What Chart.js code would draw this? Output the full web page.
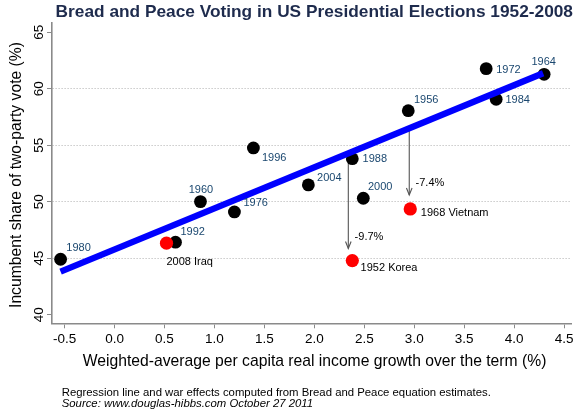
<!DOCTYPE html>
<html>
<head>
<meta charset="utf-8">
<title>Bread and Peace Voting</title>
<script src="https://cdn.jsdelivr.net/npm/chart.js@4.4.1/dist/chart.umd.min.js"></script>
<style>
  html, body { margin: 0; padding: 0; background: #fff; }
  #wrap { width: 578px; height: 420px; position: relative; }
</style>
</head>
<body>
<div id="wrap"><canvas id="chart"></canvas></div>
<script>
'use strict';

/* ----------------------------------------------------------
   DATA — values
---------------------------------------------------------- */
const years  = ['1956', '1960', '1964', '1972', '1976', '1980', '1984', '1988', '1992', '1996', '2000', '2004'];
const growth = [2.94, 0.86, 4.30, 3.72, 1.20, -0.54, 3.82, 2.38, 0.61, 1.39, 2.49, 1.94];
const vote   = [58.06, 50.01, 61.28, 61.78, 49.10, 44.91, 59.07, 53.81, 46.42, 54.76, 50.31, 51.49];

/* war years */
const warLabels = ['1952 Korea', '1968 Vietnam', '2008 Iraq'];
const warGrowth = [2.38, 2.96, 0.52];
const warVote   = [44.79, 49.36, 46.33];

/* regression line end points */
const fitGrowth = [-0.54, 4.29];
const fitVote   = [43.81, 61.37];

/* war effect arrows */
const effectLabels = ['-9.7%', '-7.4%'];
const effectGrowth = [2.34, 2.95];
const effectFrom   = [54.3, 56.3];
const effectTo     = [45.86, 50.6];

/* axis ticks */
const xTicks = [-0.5, 0, 0.5, 1, 1.5, 2, 2.5, 3, 3.5, 4, 4.5];
const xTickLabels = ['-0.5', '0.0', '0.5', '1.0', '1.5', '2.0', '2.5', '3.0', '3.5', '4.0', '4.5'];
const yTicks = [40, 45, 50, 55, 60, 65];
const yTickLabels = ['40', '45', '50', '55', '60', '65'];

/* ----------------------------------------------------------
   STYLE
---------------------------------------------------------- */
const FONT = "'Liberation Sans', Arial, Helvetica, sans-serif";
const NAVY = '#1a476f';
const AXIS_GRAY = '#8a8a8a';

/* label offsets (px) from point centre: [dx to text left, dy to text middle] */
const YEAR_OFFSETS = {
  '1956': [5.7, -10.7], '1960': [-11.7, -11.7], '1964': [-12.7, -12],
  '1972': [10, 1.3],    '1976': [9, -8.7],      '1980': [5.7, -11],
  '1984': [9.3, 0.7],   '1988': [10.3, 0.6],    '1992': [5, -10.6],
  '1996': [8.6, 10.3],  '2000': [4.7, -11.6],   '2004': [8.7, -6.7],
};
const WAR_OFFSETS = [[8.3, 7.6], [10.6, 3.7], [0, 19]];

const toXY = (xs, ys) => xs.map((x, i) => ({ x, y: ys[i] }));

/* ----------------------------------------------------------
   PLUGIN: arrows (drawn under the markers)
---------------------------------------------------------- */
const arrowPlugin = {
  id: 'effectArrows',
  beforeDatasetsDraw(chart) {
    const { ctx, scales: { x, y } } = chart;
    ctx.save();
    ctx.strokeStyle = '#555';
    ctx.lineWidth = 1.1;
    effectGrowth.forEach((g, i) => {
      const px = x.getPixelForValue(g);
      const y1 = y.getPixelForValue(effectFrom[i]);
      const y2 = y.getPixelForValue(effectTo[i]);
      ctx.beginPath();
      ctx.moveTo(px, y1);
      ctx.lineTo(px, y2);
      ctx.stroke();
      /* open arrow head */
      ctx.beginPath();
      ctx.moveTo(px - 2.8, y2 - 7);
      ctx.lineTo(px, y2);
      ctx.lineTo(px + 2.8, y2 - 7);
      ctx.stroke();
    });
    ctx.restore();
  },
};

/* ----------------------------------------------------------
   PLUGIN: texts (marker labels, y tick labels, titles, notes)
---------------------------------------------------------- */
const textPlugin = {
  id: 'texts',
  afterDraw(chart) {
    const { ctx, scales: { x, y } } = chart;
    ctx.save();

    /* year labels next to the black markers */
    ctx.font = `11px ${FONT}`;
    ctx.textAlign = 'left';
    ctx.textBaseline = 'middle';
    ctx.fillStyle = NAVY;
    chart.getDatasetMeta(2).data.forEach((pt, i) => {
      const [dx, dy] = YEAR_OFFSETS[years[i]];
      ctx.fillText(years[i], pt.x + dx, pt.y + dy);
    });

    /* war labels */
    ctx.fillStyle = '#000';
    chart.getDatasetMeta(1).data.forEach((pt, i) => {
      const [dx, dy] = WAR_OFFSETS[i];
      ctx.fillText(warLabels[i], pt.x + dx, pt.y + dy);
    });

    /* war effect labels beside the arrows */
    effectLabels.forEach((lab, i) => {
      const px = x.getPixelForValue(effectGrowth[i]);
      const py = y.getPixelForValue(effectTo[i]);
      ctx.fillText(lab, px + 6.3, py - 12);
    });

    /* y tick labels, rotated like the original */
    ctx.font = `13.5px ${FONT}`;
    ctx.textAlign = 'center';
    yTicks.forEach((v, i) => {
      ctx.save();
      ctx.translate(39.5, y.getPixelForValue(v));
      ctx.rotate(-Math.PI / 2);
      ctx.fillText(yTickLabels[i], 0, 0);
      ctx.restore();
    });

    /* y axis title */
    ctx.font = `15.7px ${FONT}`;
    ctx.save();
    ctx.translate(17, 175);
    ctx.rotate(-Math.PI / 2);
    ctx.fillText('Incumbent share of two-party vote (%)', 0, 0);
    ctx.restore();

    /* x axis title */
    ctx.fillText('Weighted-average per capita real income growth over the term (%)', 314.6, 362);

    /* main title */
    ctx.font = `bold 17.3px ${FONT}`;
    ctx.fillStyle = '#1e2b4d';
    ctx.fillText('Bread and Peace Voting in US Presidential Elections 1952-2008', 314.3, 12);

    /* notes */
    ctx.textAlign = 'left';
    ctx.fillStyle = '#000';
    ctx.font = `11.35px ${FONT}`;
    ctx.fillText('Regression line and war effects computed from Bread and Peace equation estimates.', 61.7, 393.3);
    ctx.font = `italic 11.35px ${FONT}`;
    ctx.fillText('Source: www.douglas-hibbs.com October 27 2011', 61.7, 403.6);

    ctx.restore();
  },
};

/* ----------------------------------------------------------
   CHART
---------------------------------------------------------- */
new Chart(document.getElementById('chart'), {
  type: 'scatter',
  data: {
    datasets: [
      {
        label: 'Regression line',
        data: toXY(fitGrowth, fitVote),
        showLine: true,
        borderColor: '#0000ff',
        borderWidth: 6.3,
        borderCapStyle: 'butt',
        pointRadius: 0,
        order: 0,
      },
      {
        label: 'War years',
        data: toXY(warGrowth, warVote),
        backgroundColor: '#ff0000',
        borderWidth: 0,
        pointRadius: 6.6,
        order: 1,
      },
      {
        label: 'Elections',
        data: toXY(growth, vote),
        backgroundColor: '#000',
        borderWidth: 0,
        pointRadius: 6.4,
        order: 2,
      },
    ],
  },
  options: {
    responsive: true,
    maintainAspectRatio: false,
    animation: false,
    layout: { padding: { top: 23, right: 3, left: 0, bottom: 0 } },
    plugins: {
      legend: { display: false },
      tooltip: { enabled: false },
      title: { display: false },
    },
    scales: {
      x: {
        type: 'linear',
        min: -0.626,
        max: 4.573,
        afterBuildTicks(s) { s.ticks = xTicks.map(v => ({ value: v })); },
        afterFit(s) { s.height = 96.7; s.paddingLeft = 0; s.paddingRight = 0; },
        ticks: {
          callback: (v) => xTickLabels[xTicks.indexOf(v)],
          font: { family: FONT, size: 13.5 },
          color: '#000',
          padding: 3,
          maxRotation: 0,
          autoSkip: false,
        },
        grid: {
          drawOnChartArea: false,
          drawTicks: true,
          tickLength: 5,
          tickColor: AXIS_GRAY,
          tickWidth: 1,
        },
        border: { display: true, color: AXIS_GRAY, width: 1.6 },
      },
      y: {
        type: 'linear',
        min: 39.24,
        max: 65.82,
        afterBuildTicks(s) { s.ticks = yTicks.map(v => ({ value: v })); },
        afterFit(s) { s.width = 52; s.paddingTop = 0; s.paddingBottom = 0; },
        ticks: { display: false },
        grid: {
          drawOnChartArea: true,
          drawTicks: true,
          tickLength: 5,
          tickColor: AXIS_GRAY,
          tickWidth: 1,
          lineWidth: 1,
          color: (c) => (c.tick && (c.tick.value === 40 || c.tick.value === 65)) ? 'rgba(0,0,0,0)' : '#b0b0b0',
        },
        border: { display: true, color: AXIS_GRAY, width: 1.6, dash: [1, 2] },
      },
    },
  },
  plugins: [arrowPlugin, textPlugin],
});
</script>
</body>
</html>
